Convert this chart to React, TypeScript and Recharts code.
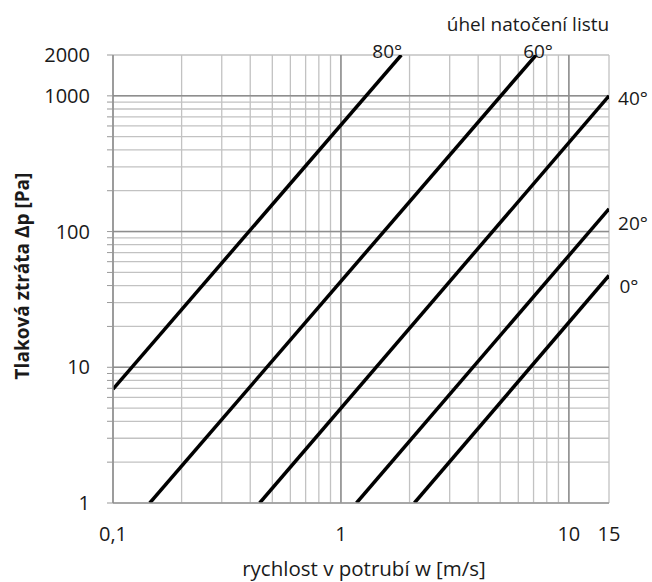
import React from "react";
import {
  LineChart,
  Line,
  XAxis,
  YAxis,
  CartesianGrid,
  ReferenceLine,
} from "recharts";

// blade angle curves, each drawn as a straight line between two read-off points
const angleLabels = ["80°", "60°", "40°", "20°", "0°"];
const velocityStart = [0.1, 0.145, 0.44, 1.17, 2.1];
const lossStart = [6.9, 1, 1, 1, 1];
const velocityEnd = [1.84, 7.18, 15, 15, 15];
const lossEnd = [2000, 2000, 1000, 147, 47.5];

const xTicks = [
  0.1, 0.2, 0.3, 0.4, 0.5, 0.6, 0.7, 0.8, 0.9, 1, 2, 3, 4, 5, 6, 7, 8, 9, 10,
  15,
];
const xTickLabels: Record<number, string> = { 0.1: "0,1", 1: "1", 10: "10", 15: "15" };

const yTicks = [
  1, 2, 3, 4, 5, 6, 7, 8, 9, 10, 20, 30, 40, 50, 60, 70, 80, 90, 100, 200, 300,
  400, 500, 600, 700, 800, 900, 1000, 2000,
];
const yTickLabels: Record<number, string> = {
  1: "1",
  10: "10",
  100: "100",
  1000: "1000",
  2000: "2000",
};

const xMajor = [1, 10];
const yMajor = [10, 100, 1000];

const series = angleLabels.map((name, i) => ({
  name,
  points: [
    { w: velocityStart[i], p: lossStart[i] },
    { w: velocityEnd[i], p: lossEnd[i] },
  ],
}));

// where each angle label sits relative to the end of its line
const labelOffset = [
  { dx: -14, dy: -4 },
  { dx: 2, dy: -4 },
  { dx: 24, dy: 2 },
  { dx: 24, dy: 14 },
  { dx: 20, dy: 11 },
];

const FONT = "'Open Sans', sans-serif";
const TEXT = "#1a1a1a";

export default function App() {
  return (
    <div
      style={{
        position: "absolute",
        left: 0,
        top: 0,
        width: 652,
        height: 582,
        background: "#fff",
        fontFamily: FONT,
      }}
    >
      <div
        style={{
          position: "absolute",
          left: 378,
          top: 15,
          width: 300,
          textAlign: "center",
          fontSize: 19,
          lineHeight: "18px",
          color: TEXT,
        }}
      >
        úhel natočení listu
      </div>
      <LineChart
        width={652}
        height={582}
        margin={{ top: 55, right: 43, bottom: 0, left: 0 }}
        style={{ fontFamily: FONT }}
      >
        <CartesianGrid stroke="#c2c2c2" strokeWidth={1.3} />
        <XAxis
          type="number"
          dataKey="w"
          scale="log"
          domain={[0.1, 15]}
          allowDataOverflow
          ticks={xTicks}
          interval={0}
          tickFormatter={(v) => xTickLabels[v] ?? ""}
          tickLine={false}
          tickMargin={18}
          height={79}
          axisLine={{ stroke: "#999", strokeWidth: 1.5 }}
          tick={{ fontSize: 20, fill: TEXT }}
          label={{
            content: () => (
              <text
                x={364}
                y={568}
                textAnchor="middle"
                dominantBaseline="central"
                fontSize={20.5}
                fill={TEXT}
              >
                rychlost v potrubí w [m/s]
              </text>
            ),
          }}
        />
        <YAxis
          type="number"
          dataKey="p"
          scale="log"
          domain={[1, 2000]}
          allowDataOverflow
          ticks={yTicks}
          interval={0}
          tickFormatter={(v) => yTickLabels[v] ?? ""}
          width={113}
          tickSize={6}
          tickMargin={17}
          tickLine={{ stroke: "#999" }}
          axisLine={{ stroke: "#888", strokeWidth: 1.5 }}
          tick={{ fontSize: 20, fill: TEXT }}
          label={{
            content: () => (
              <text
                x={22}
                y={276}
                transform="rotate(-90, 22, 276)"
                textAnchor="middle"
                dominantBaseline="central"
                fontSize={19}
                fontWeight="bold"
                fill={TEXT}
              >
                Tlaková ztráta Δp [Pa]
              </text>
            ),
          }}
        />
        {xMajor.map((v) => (
          <ReferenceLine key={"x" + v} x={v} stroke="#8e8e8e" strokeWidth={1.5} />
        ))}
        {yMajor.map((v) => (
          <ReferenceLine key={"y" + v} y={v} stroke="#8e8e8e" strokeWidth={1.5} />
        ))}
        {series.map((s, i) => (
          <Line
            key={s.name}
            data={s.points}
            dataKey="p"
            stroke="#000"
            strokeWidth={3.5}
            dot={false}
            isAnimationActive={false}
            label={(props: any) =>
              props.index === s.points.length - 1 ? (
                <text
                  key={s.name + "-label"}
                  x={props.x + labelOffset[i].dx}
                  y={props.y + labelOffset[i].dy}
                  textAnchor="middle"
                  dominantBaseline="central"
                  fontSize={19}
                  fill={TEXT}
                >
                  {s.name}
                </text>
              ) : (
                <g key={s.name + "-empty" + props.index} />
              )
            }
          />
        ))}
      </LineChart>
    </div>
  );
}
